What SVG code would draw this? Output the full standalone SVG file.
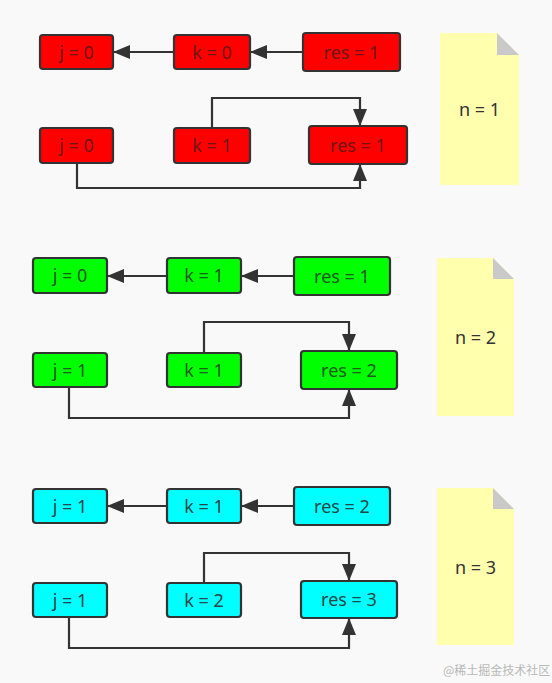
<svg xmlns="http://www.w3.org/2000/svg" width="552" height="683" viewBox="0 0 552 683">
<defs>
<marker id="arr" markerUnits="userSpaceOnUse" markerWidth="18" markerHeight="16" refX="17" refY="7" orient="auto" overflow="visible">
<path d="M0,0 L17,7 L0,14 Z" fill="#333"/>
</marker>
<style>
.box rect{stroke:#333;stroke-width:2.2}
.red rect{fill:#ff0000}
.green rect{fill:#00ff00}
.cyan rect{fill:#00ffff}
text{font-family:"Noto Sans","Liberation Sans",sans-serif;font-size:18px;text-anchor:middle}
.red text{fill:#701414}
.green text{fill:#1d5a1d}
.cyan text{fill:#244646}
.note polygon{fill:#ffffaa;opacity:0.95}
.note path{fill:#c9c9c9}
.note text{fill:#333}
.conn path{fill:none;stroke:#333;stroke-width:2.2;marker-end:url(#arr)}
.wm{font-family:"Noto Sans CJK SC",sans-serif;font-size:12px;fill:#b8b8b8;text-anchor:start}
</style>
</defs>
<rect width="552" height="683" fill="#f9f9f9"/>

<g id="conn" class="conn">
<path d="M303,52 H250"/>
<path d="M174,52 H113"/>
<path d="M212,128 V98 H360 V126"/>
<path d="M77,163 V188 H360 V164"/>

<path d="M294,276 H241"/>
<path d="M167,276 H107"/>
<path d="M204,353 V322 H349 V351"/>
<path d="M69,387 V418 H349 V389"/>

<path d="M294,506 H241"/>
<path d="M167,506 H107"/>
<path d="M204,583 V553 H349 V581"/>
<path d="M69,617 V648 H349 V618"/>
</g>

<g id="n1_j" class="box red"><rect x="40" y="35" width="73" height="34" rx="3"/><text x="76.5" y="58.5">j = 0</text></g>
<g id="n1_k" class="box red"><rect x="174" y="35" width="76" height="34" rx="3"/><text x="212" y="58.5">k = 0</text></g>
<g id="n1_res" class="box red"><rect x="303" y="33" width="97" height="38" rx="3"/><text x="351.5" y="58.5">res = 1</text></g>
<g id="n1_j2" class="box red"><rect x="40" y="128" width="73" height="35" rx="3"/><text x="76.5" y="152">j = 0</text></g>
<g id="n1_k2" class="box red"><rect x="174" y="128" width="76" height="35" rx="3"/><text x="212" y="152">k = 1</text></g>
<g id="n1_res2" class="box red"><rect x="309" y="126" width="98" height="38" rx="3"/><text x="358" y="151.5">res = 1</text></g>
<g id="note1" class="note"><polygon points="440,33 497,33 519,55 519,185 440,185"/><path d="M497,33 L497,55 L519,55 Z"/><text x="479.5" y="115.5">n = 1</text></g>

<g id="n2_j" class="box green"><rect x="33" y="258" width="74" height="35" rx="3"/><text x="70" y="282">j = 0</text></g>
<g id="n2_k" class="box green"><rect x="167" y="258" width="74" height="35" rx="3"/><text x="204" y="282">k = 1</text></g>
<g id="n2_res" class="box green"><rect x="294" y="257" width="96" height="38" rx="3"/><text x="342" y="282.5">res = 1</text></g>
<g id="n2_j2" class="box green"><rect x="33" y="353" width="74" height="34" rx="3"/><text x="70" y="376.5">j = 1</text></g>
<g id="n2_k2" class="box green"><rect x="167" y="353" width="74" height="34" rx="3"/><text x="204" y="376.5">k = 1</text></g>
<g id="n2_res2" class="box green"><rect x="301" y="351" width="96" height="38" rx="3"/><text x="349" y="376.5">res = 2</text></g>
<g id="note2" class="note"><polygon points="437,258 493,258 514,279 514,416 437,416"/><path d="M493,258 L493,279 L514,279 Z"/><text x="475.5" y="343.5">n = 2</text></g>

<g id="n3_j" class="box cyan"><rect x="33" y="489" width="74" height="34" rx="3"/><text x="70" y="512.5">j = 1</text></g>
<g id="n3_k" class="box cyan"><rect x="167" y="489" width="74" height="34" rx="3"/><text x="204" y="512.5">k = 1</text></g>
<g id="n3_res" class="box cyan"><rect x="294" y="487" width="96" height="38" rx="3"/><text x="342" y="512.5">res = 2</text></g>
<g id="n3_j2" class="box cyan"><rect x="33" y="583" width="74" height="34" rx="3"/><text x="70" y="606.5">j = 1</text></g>
<g id="n3_k2" class="box cyan"><rect x="167" y="583" width="74" height="34" rx="3"/><text x="204" y="606.5">k = 2</text></g>
<g id="n3_res2" class="box cyan"><rect x="301" y="581" width="96" height="37" rx="3"/><text x="349" y="606">res = 3</text></g>
<g id="note3" class="note"><polygon points="437,488 493,488 514,509 514,645 437,645"/><path d="M493,488 L493,509 L514,509 Z"/><text x="475.5" y="573.5">n = 3</text></g>

<text class="wm" x="443" y="675">@稀土掘金技术社区</text>
</svg>
